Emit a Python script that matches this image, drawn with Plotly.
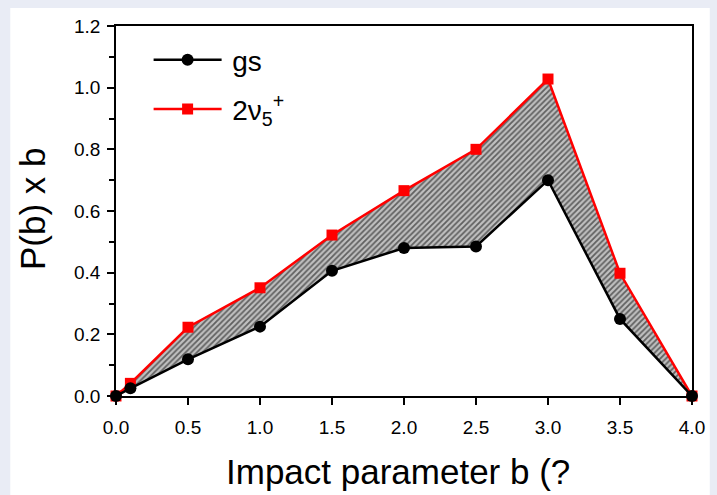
import plotly.graph_objects as go

# Impact parameter (angstrom) and weighted probabilities P(b) x b
b_values = [0.0, 0.1, 0.5, 1.0, 1.5, 2.0, 2.5, 3.0, 3.5, 4.0]
gs_values = [0.0, 0.025, 0.119, 0.225, 0.406, 0.48, 0.485, 0.70, 0.25, 0.0]
v5_values = [0.0, 0.041, 0.223, 0.351, 0.522, 0.666, 0.80, 1.028, 0.398, 0.0]

series_names = ["\u2009gs", "\u20092ν<sub>5</sub><sup>+</sup>"]
x_ticks = [0.0, 0.5, 1.0, 1.5, 2.0, 2.5, 3.0, 3.5, 4.0]
y_ticks = [0.0, 0.2, 0.4, 0.6, 0.8, 1.0, 1.2]
x_title = "Impact parameter b (?"
y_title = "P(b) x b"

FONT = "Liberation Sans"

fig = go.Figure()

# hatched band between the two curves: invisible lower edge, then fill up to the upper curve
fig.add_trace(go.Scatter(
    x=b_values, y=gs_values, mode="lines",
    line=dict(width=0, color="rgba(0,0,0,0)"),
    showlegend=False, hoverinfo="skip",
))
fig.add_trace(go.Scatter(
    x=b_values, y=v5_values, mode="lines",
    line=dict(width=0, color="rgba(0,0,0,0)"),
    fill="tonexty", fillcolor="#b4b4b4",
    fillpattern=dict(shape="/", fgcolor="#000000", bgcolor="#c0c0c0",
                     size=4, solidity=0.45),
    showlegend=False, hoverinfo="skip",
))

# excited-state curve
fig.add_trace(go.Scatter(
    x=b_values, y=v5_values, mode="lines+markers",
    name=series_names[1], legendgroup="b", legendrank=2,
    line=dict(color="#ff0000", width=2.5),
    marker=dict(symbol="square", size=11, color="#ff0000"),
    cliponaxis=False,
))

# ground-state curve on top
fig.add_trace(go.Scatter(
    x=b_values, y=gs_values, mode="lines+markers",
    name=series_names[0], legendgroup="a", legendrank=1,
    line=dict(color="#000000", width=2.5),
    marker=dict(symbol="circle", size=12, color="#000000"),
    cliponaxis=False,
))

L, R, T, B = 116, 18, 26, 99
W, H = 717, 495
pw, ph = W - L - R, H - T - B


def px_x(x):
    return (x - L) / pw


def px_y(y):
    return (396 - y) / ph


fig.update_layout(
    width=W, height=H,
    margin=dict(l=L, r=R, t=T, b=B),
    paper_bgcolor="#e9ecf5",
    plot_bgcolor="#ffffff",
    font=dict(family=FONT, color="#000000", size=19),
    showlegend=True,
    legend=dict(
        x=px_x(149), y=px_y(35), xanchor="left", yanchor="top",
        bgcolor="rgba(0,0,0,0)", font=dict(size=28, family=FONT),
        traceorder="grouped", tracegroupgap=10, itemwidth=68,
    ),
    shapes=[dict(
        type="rect", xref="paper", yref="paper", layer="below",
        x0=px_x(9), x1=px_x(W), y0=px_y(H), y1=px_y(8),
        fillcolor="#ffffff", line=dict(width=0),
    )],
    annotations=[
        dict(text=x_title, xref="paper", yref="paper",
             x=px_x(401), y=px_y(471), xanchor="center", yanchor="middle",
             showarrow=False, font=dict(size=35, family=FONT)),
        dict(text=y_title, xref="paper", yref="paper", textangle=-90,
             x=px_x(31), y=px_y(209), xanchor="center", yanchor="middle",
             showarrow=False, font=dict(size=35, family=FONT)),
    ],
    xaxis=dict(
        range=[0, 4], tickvals=x_ticks, tickformat=".1f",
        ticks="outside", ticklen=7, tickwidth=1.5, tickcolor="#000000",
        ticklabelstandoff=6,
        showline=True, linecolor="#000000", linewidth=1.5, mirror=True,
        showgrid=False, zeroline=False,
        tickfont=dict(size=19, family=FONT, color="#000000"),
    ),
    yaxis=dict(
        range=[0, 1.2], tickvals=y_ticks, tickformat=".1f",
        ticks="outside", ticklen=7, tickwidth=1.5, tickcolor="#000000",
        ticklabelstandoff=3,
        minor=dict(dtick=0.1, ticks="outside", ticklen=5, tickcolor="#000000"),
        showline=True, linecolor="#000000", linewidth=1.5, mirror=True,
        showgrid=False, zeroline=False,
        tickfont=dict(size=19, family=FONT, color="#000000"),
    ),
)

fig.write_html("out.html")
